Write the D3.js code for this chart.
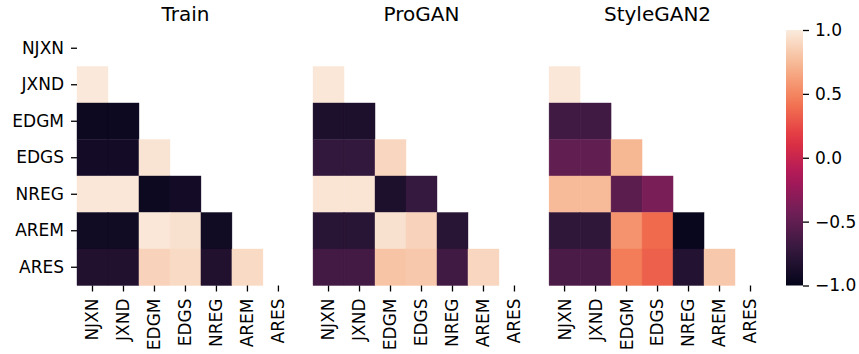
<!DOCTYPE html>
<html>
<head>
<meta charset="utf-8">
<script src="https://cdn.jsdelivr.net/npm/d3@7/dist/d3.min.js"></script>
<style>
  html, body { margin: 0; padding: 0; background: #fff; }
  svg { display: block; }
  text { font-family: "DejaVu Sans", sans-serif; fill: #000; }
</style>
</head>
<body>
<svg id="chart" width="859" height="354"></svg>
<script>
// Feature names, shared by rows and columns
const features = ["NJXN", "JXND", "EDGM", "EDGS", "NREG", "AREM", "ARES"];

// Panel titles
const panelTitles = ["Train", "ProGAN", "StyleGAN2"];

// Lower-triangular correlation values: row i holds correlations with columns 0..i-1
const trainCorr = [
  [],
  [0.99],
  [-0.95, -0.95],
  [-0.90, -0.90, 0.96],
  [0.98, 0.98, -0.95, -0.90],
  [-0.92, -0.92, 0.98, 0.95, -0.92],
  [-0.83, -0.83, 0.87, 0.91, -0.83, 0.91]
];

const proganCorr = [
  [],
  [0.98],
  [-0.85, -0.85],
  [-0.73, -0.73, 0.89],
  [0.97, 0.97, -0.85, -0.71],
  [-0.79, -0.79, 0.95, 0.87, -0.79],
  [-0.65, -0.65, 0.80, 0.82, -0.66, 0.89]
];

const styleganCorr = [
  [],
  [0.98],
  [-0.66, -0.66],
  [-0.50, -0.50, 0.73],
  [0.75, 0.75, -0.53, -0.38],
  [-0.75, -0.75, 0.56, 0.38, -0.97],
  [-0.61, -0.61, 0.46, 0.34, -0.81, 0.82]
];

// Colorbar ticks
const colorbarTicks = [-1.0, -0.5, 0.0, 0.5, 1.0];

const matrices = [trainCorr, proganCorr, styleganCorr];

// "rocket" colormap stops
const rocketStops = ["#03051a", "#35193e", "#701f57", "#ad1759", "#e13342", "#f37651", "#f6b48f", "#faebdd"];
const rocket = d3.piecewise(d3.interpolateRgb, rocketStops);
const color = d3.scaleSequential(rocket).domain([-1, 1]);

const svg = d3.select("#chart");

const gridTop = 30, gridBottom = 285.5;
const panelX = d3.scaleBand().domain(panelTitles).range([77, 766]).paddingInner(0.081).paddingOuter(0);
const y = d3.scaleBand().domain(features).range([gridTop, gridBottom]);

const tickFont = 17;
const titleFont = 20;

panelTitles.forEach((title, p) => {
  const g = svg.append("g").attr("transform", `translate(${panelX(title)},0)`);
  const x = d3.scaleBand().domain(features).range([0, panelX.bandwidth()]);

  const cells = [];
  matrices[p].forEach((row, i) => {
    row.forEach((v, j) => cells.push({ r: features[i], c: features[j], v }));
  });

  g.selectAll("rect.cell")
    .data(cells)
    .join("rect")
    .attr("class", "cell")
    .attr("x", d => x(d.c))
    .attr("y", d => y(d.r))
    .attr("width", x.bandwidth())
    .attr("height", y.bandwidth())
    .attr("fill", d => color(d.v))
    .attr("stroke", d => color(d.v))
    .attr("stroke-width", 0.4);

  // bottom axis with rotated labels
  const xAxis = g.append("g")
    .attr("transform", `translate(0,${gridBottom})`)
    .call(d3.axisBottom(x).tickSize(6).tickPadding(4));
  xAxis.select(".domain").remove();
  xAxis.selectAll(".tick line").attr("stroke", "#000").attr("stroke-width", 1.3);
  xAxis.selectAll(".tick text")
    .attr("font-size", tickFont)
    .attr("transform", "rotate(-90)")
    .attr("text-anchor", "end")
    .attr("x", -13)
    .attr("y", 0)
    .attr("dy", "0.35em");

  // left axis only on the first panel
  if (p === 0) {
    const yAxis = g.append("g").call(d3.axisLeft(y).tickSize(6).tickPadding(7));
    yAxis.select(".domain").remove();
    yAxis.selectAll(".tick line").attr("stroke", "#000").attr("stroke-width", 1.3);
    yAxis.selectAll(".tick text").attr("font-size", tickFont);
  }

  g.append("text")
    .attr("x", panelX.bandwidth() / 2)
    .attr("y", 21)
    .attr("text-anchor", "middle")
    .attr("font-size", titleFont)
    .text(title);
});

// Colorbar
const cbX = 786, cbW = 17;
const cbScale = d3.scaleLinear().domain([-1, 1]).range([gridBottom, gridTop]);
const defs = svg.append("defs");
const grad = defs.append("linearGradient")
  .attr("id", "rocketGrad")
  .attr("x1", 0).attr("y1", 1).attr("x2", 0).attr("y2", 0);
d3.range(0, 1.0001, 0.05).forEach(t => {
  grad.append("stop").attr("offset", t).attr("stop-color", rocket(t));
});
svg.append("rect")
  .attr("x", cbX).attr("y", gridTop)
  .attr("width", cbW).attr("height", gridBottom - gridTop)
  .attr("fill", "url(#rocketGrad)");

const cbAxis = svg.append("g")
  .attr("transform", `translate(${cbX + cbW},0)`)
  .call(d3.axisRight(cbScale).tickValues(colorbarTicks).tickFormat(d3.format(".1f")).tickSize(6).tickPadding(6));
cbAxis.select(".domain").remove();
cbAxis.selectAll(".tick line").attr("stroke", "#000").attr("stroke-width", 1.3);
cbAxis.selectAll(".tick text").attr("font-size", tickFont);
</script>
</body>
</html>
